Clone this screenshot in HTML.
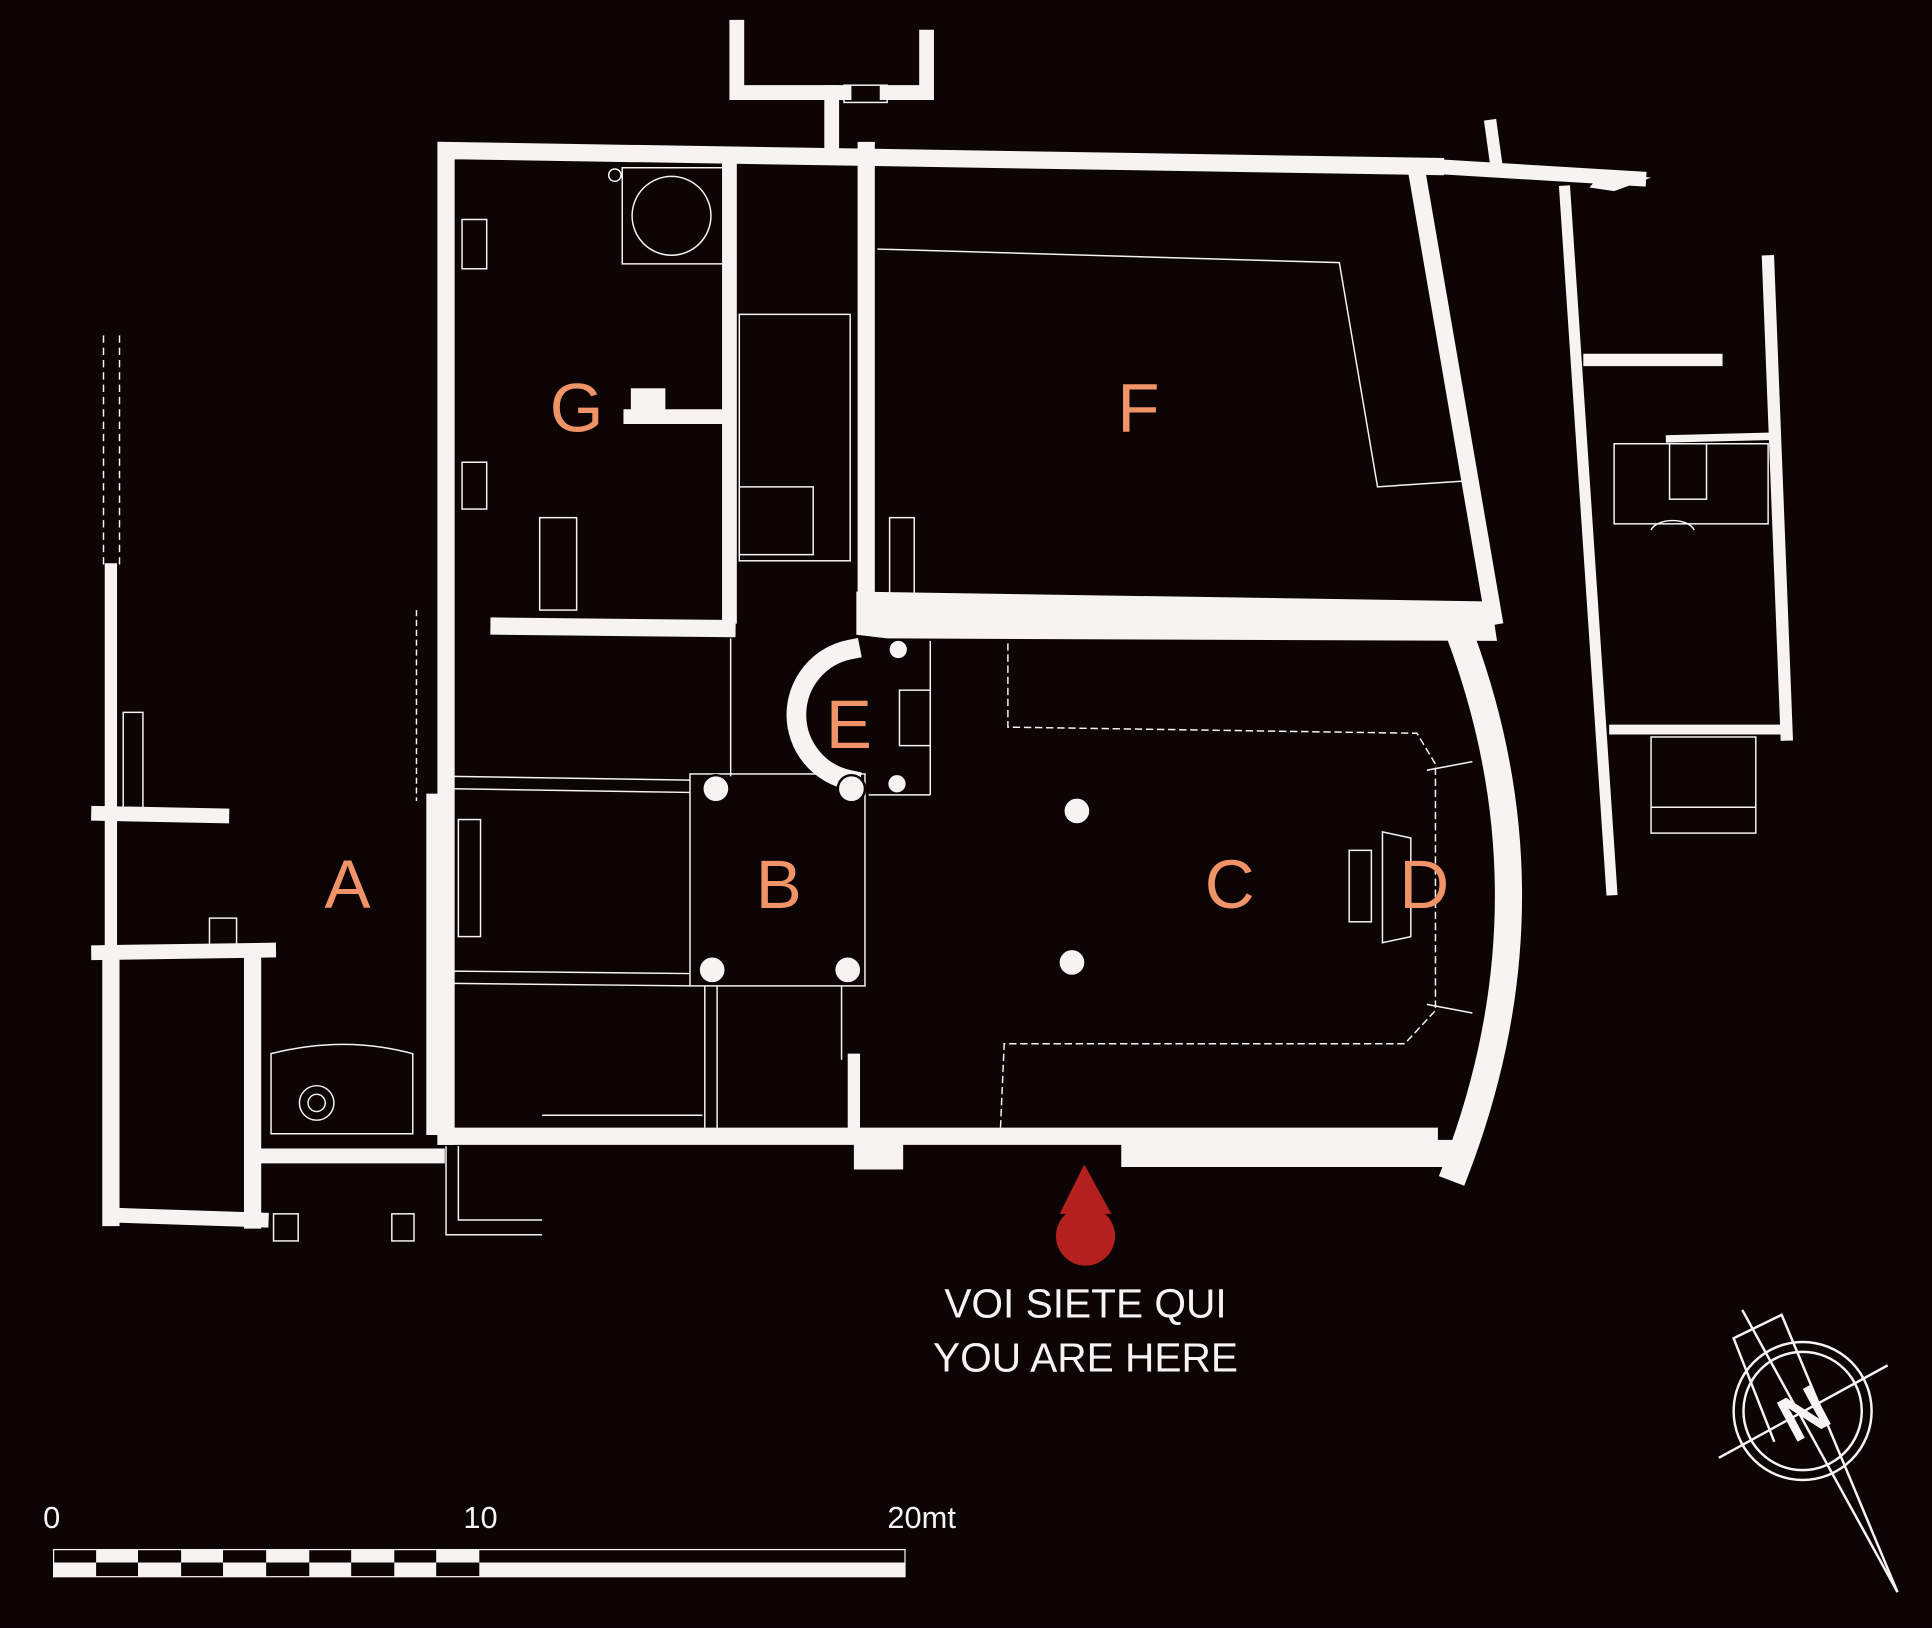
<!DOCTYPE html>
<html><head><meta charset="utf-8"><style>
html,body{margin:0;padding:0;background:#0d0406;}
svg{display:block}
</style></head><body>
<svg width="1932" height="1628" viewBox="0 0 1568 1321" xmlns="http://www.w3.org/2000/svg">
<rect width="1568" height="1321" fill="#0d0406"/>
<g stroke="#f6f3f1" fill="none" stroke-linecap="square">
<!-- top annex -->
<polyline points="598,22 598,75 675,75 675,118" stroke-width="12"/>
<polyline points="752,30 752,75 720,75" stroke-width="12"/>
<line x1="675" y1="75" x2="685" y2="75" stroke-width="12"/>
<!-- main outer walls -->
<polyline points="1165,135 362,122 362,922" stroke-width="14"/>
<line x1="362" y1="922" x2="1160" y2="922" stroke-width="14"/>
<rect x="910" y="925" width="270" height="22" fill="#f6f3f1" stroke="none"/>
<rect x="693" y="925" width="40" height="24" fill="#f6f3f1" stroke="none"/>
<path d="M1185,515 Q1265,730 1182,948" stroke-width="22"/>
<!-- interior walls -->
<line x1="405" y1="508" x2="590" y2="510" stroke-width="14"/>
<line x1="592" y1="135" x2="592" y2="500" stroke-width="12"/>
<line x1="703" y1="122" x2="703" y2="490" stroke-width="14"/>
<polygon points="695,480 1210,488 1215,520 720,518 695,515" fill="#f6f3f1" stroke="none"/>
<line x1="1150" y1="140" x2="1212" y2="500" stroke-width="14"/>
<line x1="590" y1="338" x2="512" y2="338" stroke-width="12"/>
<rect x="512" y="315" width="28" height="22" fill="#f6f3f1" stroke="none"/>
<line x1="693" y1="860" x2="693" y2="918" stroke-width="10"/>
<line x1="352" y1="650" x2="352" y2="915" stroke-width="12"/>
<!-- E apse -->
<path d="M690,527 A54,54 0 0 0 690,633" stroke-width="16"/>
<!-- right buildings -->
<line x1="1165" y1="135" x2="1330" y2="145" stroke-width="12"/>
<line x1="1210" y1="102" x2="1215" y2="138" stroke-width="10"/>
<line x1="1270" y1="155" x2="1308" y2="722" stroke-width="9"/>
<line x1="1435" y1="212" x2="1450" y2="596" stroke-width="10"/>
<line x1="1290" y1="292" x2="1393" y2="292" stroke-width="10"/>
<line x1="1310" y1="592" x2="1450" y2="592" stroke-width="8"/>
<line x1="1355" y1="356" x2="1435" y2="354" stroke-width="6"/>
<!-- left A -->
<line x1="90" y1="462" x2="90" y2="655" stroke-width="10"/>
<line x1="90" y1="660" x2="90" y2="770" stroke-width="10"/>
<line x1="80" y1="660" x2="180" y2="662" stroke-width="12"/>
<line x1="80" y1="773" x2="218" y2="771" stroke-width="12"/>
<line x1="90" y1="778" x2="90" y2="988" stroke-width="14"/>
<line x1="90" y1="986" x2="212" y2="990" stroke-width="12"/>
<line x1="205" y1="778" x2="205" y2="990" stroke-width="14"/>
<line x1="215" y1="938" x2="355" y2="938" stroke-width="12"/>
</g>
<polygon points="1300,140 1340,144 1310,155 1290,152" fill="#f6f3f1"/>
<g stroke="#f6f3f1" fill="none" stroke-width="1.2">
<rect x="685" y="69" width="35" height="14"/>
<line x1="84" y1="272" x2="84" y2="460" stroke-dasharray="6,4"/>
<line x1="97" y1="272" x2="97" y2="460" stroke-dasharray="6,4"/>
<polyline points="712,202 1087,213 1118,395 1192,390"/>
<polyline points="818,522 818,590 1150,595 1165,620 1165,820 1140,847 815,847 812,915" stroke-dasharray="6,3"/>
<rect x="505" y="136" width="82" height="78"/>
<circle cx="545" cy="175" r="32"/>
<circle cx="499" cy="142" r="5"/>
<line x1="368" y1="630" x2="560" y2="633"/><line x1="368" y1="640" x2="560" y2="643"/>
<line x1="368" y1="788" x2="560" y2="790"/><line x1="368" y1="798" x2="560" y2="800"/>
<rect x="560" y="628" width="142" height="172"/>
<line x1="593" y1="518" x2="593" y2="630"/><line x1="572" y1="800" x2="572" y2="915"/><line x1="582" y1="800" x2="582" y2="915"/>
<line x1="683" y1="800" x2="683" y2="860"/>
<rect x="372" y="665" width="18" height="95"/>
<rect x="600" y="255" width="90" height="200"/>
<rect x="600" y="395" width="60" height="55"/>
<rect x="722" y="420" width="20" height="62"/>
<rect x="730" y="560" width="25" height="45"/>
<line x1="755" y1="520" x2="755" y2="645"/><line x1="705" y1="645" x2="755" y2="645"/>
<rect x="1095" y="690" width="18" height="58"/>
<path d="M1122,675 L1145,680 L1145,760 L1122,765 Z"/>
<line x1="1158" y1="625" x2="1195" y2="618"/><line x1="1158" y1="815" x2="1195" y2="822"/>
<circle cx="257" cy="895" r="14"/><circle cx="257" cy="895" r="7"/>
<path d="M220,855 Q280,840 335,855 L335,920 L220,920 Z"/>
<rect x="222" y="985" width="20" height="22"/><rect x="318" y="985" width="18" height="22"/>
<polyline points="372,930 372,990 440,990"/><polyline points="362,930 362,1002 440,1002"/>
<rect x="1340" y="598" width="85" height="78"/><line x1="1340" y1="655" x2="1425" y2="655"/>
<rect x="1310" y="360" width="125" height="65"/>
<rect x="1355" y="360" width="30" height="45"/>
<path d="M1340,430 A18,10 0 0 1 1375,430"/>
<rect x="100" y="578" width="16" height="82"/>
<rect x="170" y="745" width="22" height="25"/>
<line x1="338" y1="495" x2="338" y2="650" stroke-dasharray="5,3"/>
<rect x="438" y="420" width="30" height="75"/>
<rect x="375" y="178" width="20" height="40"/>
<rect x="375" y="375" width="20" height="38"/>
<line x1="440" y1="905" x2="570" y2="905"/>
</g>
<g fill="#f6f3f1" stroke="#f6f3f1" stroke-width="2">
<circle cx="581" cy="640" r="11" stroke="#0d0406"/><circle cx="691" cy="640" r="11" stroke="#0d0406"/>
<circle cx="578" cy="787" r="11" stroke="#0d0406"/><circle cx="688" cy="787" r="11" stroke="#0d0406"/>
<circle cx="874" cy="658" r="9"/><circle cx="870" cy="781" r="9"/>
<circle cx="729" cy="527" r="6"/><circle cx="728" cy="636" r="6"/>
</g>
<g fill="#f09468" font-family="Liberation Sans, sans-serif" font-size="56" text-anchor="middle">
<text x="282" y="737">A</text><text x="632" y="737">B</text><text x="998" y="737">C</text>
<text x="1156" y="737">D</text><text x="689" y="607">E</text><text x="924" y="350">F</text><text x="468" y="350">G</text>
</g>
<polygon points="880,945 860,985 902,985" fill="#b4201e"/>
<circle cx="881" cy="1003" r="24" fill="#b4201e"/>
<g fill="#f6f3f1" font-family="Liberation Sans, sans-serif" font-size="33" text-anchor="middle">
<text x="881" y="1069">VOI SIETE QUI</text><text x="881" y="1113">YOU ARE HERE</text>
</g>
<g fill="#f6f3f1" font-family="Liberation Sans, sans-serif" font-size="25" text-anchor="middle">
<text x="42" y="1240">0</text><text x="390" y="1240">10</text><text x="748" y="1240">20mt</text>
</g>
<rect x="43" y="1257" width="692" height="23" fill="#f6f3f1"/>
<g fill="#0d0406">
<rect x="44" y="1258" width="34" height="10"/><rect x="112" y="1258" width="35" height="10"/><rect x="181" y="1258" width="35" height="10"/><rect x="251" y="1258" width="34" height="10"/><rect x="320" y="1258" width="34" height="10"/>
<rect x="78" y="1268" width="34" height="11"/><rect x="147" y="1268" width="34" height="11"/><rect x="216" y="1268" width="35" height="11"/><rect x="285" y="1268" width="35" height="11"/><rect x="354" y="1268" width="35" height="11"/>
<rect x="389" y="1258" width="345" height="10"/>
</g>
<g stroke="#f6f3f1" fill="none" stroke-width="2">
<circle cx="1463" cy="1145" r="56"/><circle cx="1463" cy="1145" r="48"/>
<line x1="1395" y1="1183" x2="1532" y2="1108"/>
<line x1="1414" y1="1063" x2="1540" y2="1292"/>
<polyline points="1440,1170 1407,1086 1446,1067 1540,1292"/>
</g>
<text x="1463" y="1165" fill="#f6f3f1" font-family="Liberation Sans, sans-serif" font-weight="bold" font-size="52" text-anchor="middle" transform="rotate(-28 1463 1145)">N</text>
</svg>
</body></html>
